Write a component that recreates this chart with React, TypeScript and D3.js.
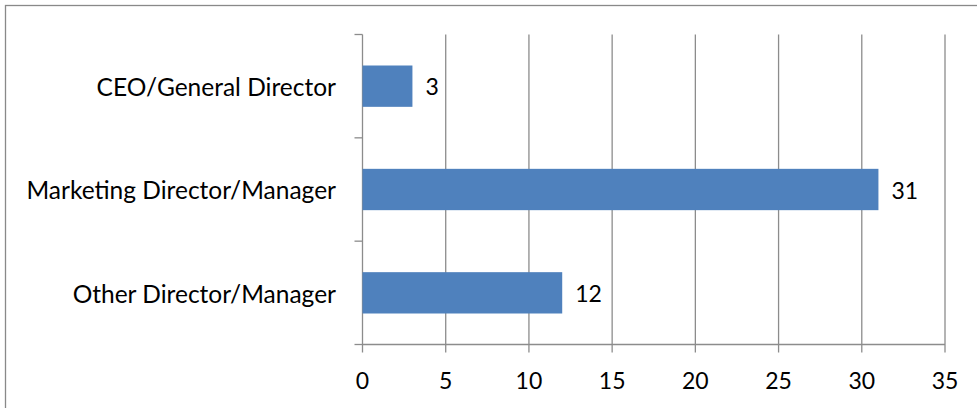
import React from "react";
import * as d3 from "d3";

const categories = ["CEO/General Director", "Marketing Director/Manager", "Other Director/Manager"];
const values = [3, 31, 12];
const xTicks = [0, 5, 10, 15, 20, 25, 30, 35];

const W = 977;
const H = 408;
const FONT = "Lato, 'Open Sans', sans-serif";

export default function App() {
  const left = 362.5;
  const right = 945;
  const top = 34.5;
  const bottom = 344.5;
  const x = d3.scaleLinear().domain([0, 35]).range([left, right]);
  const y = d3.scaleBand<string>().domain(categories).range([top, bottom]).paddingInner(0.6).paddingOuter(0.3);
  const bandStep = (bottom - top) / categories.length;
  const dividers = d3.range(categories.length + 1).map((i) => top + i * bandStep);
  const grid = "#8c8c8c";

  return (
    <svg width={W} height={H} style={{ position: "absolute", left: 0, top: 0 }}>
      <rect x={0} y={0} width={W} height={H} fill="#fff" />
      <rect x={5.5} y={5.5} width={W + 10} height={H + 10} fill="none" stroke="#898989" strokeWidth={1.3} />
      {xTicks.map((t) => (
        <line key={"g" + t} x1={x(t)} x2={x(t)} y1={top} y2={bottom + 8} stroke={grid} strokeWidth={1.3} />
      ))}
      <line x1={left} x2={right} y1={bottom} y2={bottom} stroke={grid} strokeWidth={1.3} />
      {dividers.map((d, i) => (
        <line key={"d" + i} x1={left - 8} x2={left} y1={d} y2={d} stroke={grid} strokeWidth={1.3} />
      ))}
      {categories.map((c, i) => (
        <g key={c}>
          <rect x={x(0)} y={y(c)!} width={x(values[i]) - x(0)} height={y.bandwidth()} fill="#4f81bd" />
          <text x={x(values[i]) + 13} y={y(c)! + y.bandwidth() / 2 + 1} dy="0.36em" fontFamily={FONT} fontSize={23} fill="#000">
            {values[i]}
          </text>
          <text x={336} y={y(c)! + y.bandwidth() / 2 + 1} dy="0.36em" textAnchor="end" fontFamily={FONT} fontSize={24.5} fill="#000">
            {c}
          </text>
        </g>
      ))}
      {xTicks.map((t) => (
        <text key={"t" + t} x={x(t)} y={381} dy="0.36em" textAnchor="middle" fontFamily={FONT} fontSize={23} fill="#000">
          {t}
        </text>
      ))}
    </svg>
  );
}
